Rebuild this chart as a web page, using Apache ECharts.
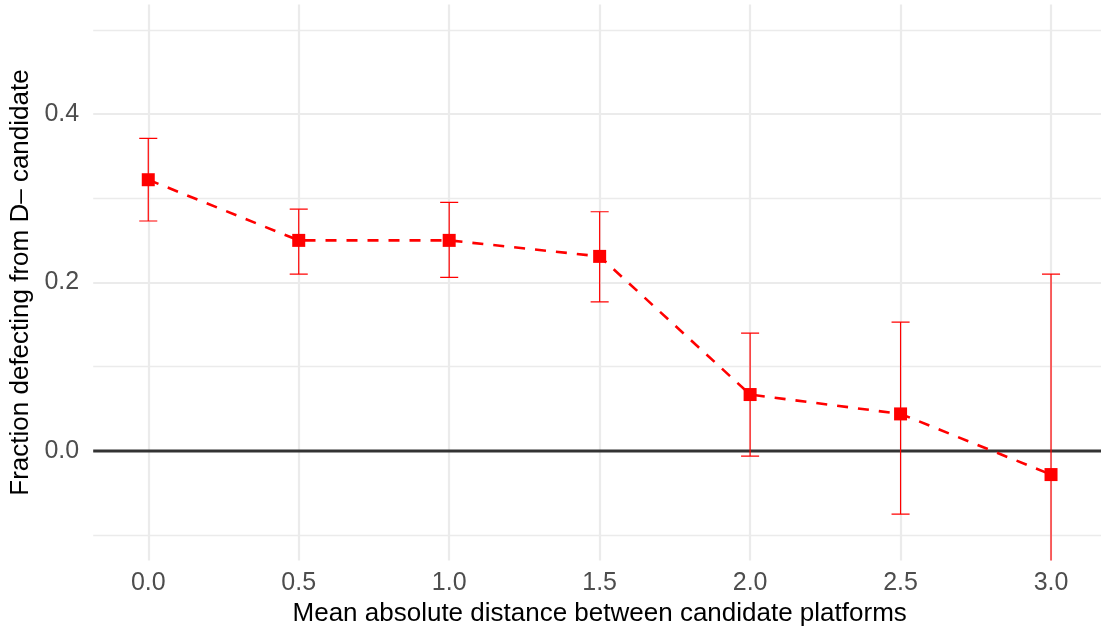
<!DOCTYPE html>
<html>
<head>
<meta charset="utf-8">
<script src="https://cdn.jsdelivr.net/npm/echarts@6/dist/echarts.min.js"></script>
<style>html,body{margin:0;padding:0;background:#fff}#c{width:1101px;height:630px}</style>
</head>
<body>
<div id="c"></div>
<script>
// ---- data ----
const xs    = [0.0, 0.5, 1.0, 1.5, 2.0, 2.5, 3.0];
const means = [0.322, 0.250, 0.250, 0.231, 0.067, 0.044, -0.028];
const lows  = [0.273, 0.210, 0.206, 0.177, -0.006, -0.075, -0.266];
const highs = [0.371, 0.287, 0.295, 0.284, 0.140, 0.153, 0.210];
const xTicks = [0.0, 0.5, 1.0, 1.5, 2.0, 2.5, 3.0];
const yTicks = [0.0, 0.2, 0.4];
const yMinor = [-0.1, 0.1, 0.3, 0.5];
const xTitle = 'Mean absolute distance between candidate platforms';
const yTitle = 'Fraction defecting from D\u2013 candidate';

const X_MIN = -0.183, X_MAX = 3.183, Y_MIN = -0.13, Y_MAX = 0.53;
const CAP = 0.03;
const FONT = '"Liberation Sans", Arial, sans-serif';

const chart = echarts.init(document.getElementById('c'), null, {renderer: 'canvas'});

const errData = xs.map((x, i) => [x, lows[i], highs[i]]);
const lineData = xs.map((x, i) => [x, means[i]]);

chart.setOption({
  animation: false,
  backgroundColor: '#ffffff',
  grid: {left: 93.2, top: 4.5, width: 1012.9, height: 556, containLabel: false, outerBoundsMode: 'none'},
  xAxis: {
    type: 'value', min: X_MIN, max: X_MAX,
    axisLine: {show: false},
    axisTick: {show: false, customValues: xTicks},
    axisLabel: {customValues: xTicks, formatter: v => v.toFixed(1), color: '#4D4D4D', fontSize: 25, fontFamily: FONT, margin: 10},
    splitLine: {show: true, lineStyle: {color: '#EBEBEB', width: 2.2}},
    name: xTitle, nameLocation: 'middle', nameGap: 40,
    nameTextStyle: {color: '#000', fontSize: 26, fontFamily: FONT}
  },
  yAxis: [{
    type: 'value', min: Y_MIN, max: Y_MAX,
    axisLine: {show: false},
    axisTick: {show: false, customValues: yTicks},
    axisLabel: {customValues: yTicks, formatter: v => v.toFixed(1), color: '#4D4D4D', fontSize: 25, fontFamily: FONT, margin: 14},
    splitLine: {show: true, lineStyle: {color: '#EBEBEB', width: 2.2}},
    name: yTitle, nameLocation: 'middle', nameGap: 58, nameRotate: 90,
    nameTextStyle: {color: '#000', fontSize: 26, fontFamily: FONT}
  }, {
    type: 'value', min: Y_MIN, max: Y_MAX, position: 'left',
    axisLine: {show: false},
    axisTick: {show: false, customValues: yMinor},
    axisLabel: {show: false, customValues: yMinor},
    splitLine: {show: true, lineStyle: {color: '#EBEBEB', width: 1.4}}
  }],
  series: [
    {
      type: 'custom', z: 1, silent: true, clip: true,
      data: [[0]],
      renderItem: (params, api) => {
        const a = api.coord([X_MIN, 0]);
        const b = api.coord([X_MAX, 0]);
        return {type: 'line', shape: {x1: a[0], y1: a[1], x2: b[0], y2: b[1]},
                style: {stroke: '#333333', lineWidth: 3}};
      }
    },
    {
      type: 'custom', z: 3, silent: true, clip: true,
      data: errData,
      renderItem: (params, api) => {
        const x = api.value(0), lo = api.value(1), hi = api.value(2);
        const pl = api.coord([x, lo]), ph = api.coord([x, hi]);
        const cl = api.coord([x - CAP, lo]), cr = api.coord([x + CAP, lo]);
        const tl = api.coord([x - CAP, hi]), tr = api.coord([x + CAP, hi]);
        const st = {stroke: '#FF0000', lineWidth: 1.2};
        return {type: 'group', children: [
          {type: 'line', shape: {x1: pl[0], y1: pl[1], x2: ph[0], y2: ph[1]}, style: st},
          {type: 'line', shape: {x1: cl[0], y1: cl[1], x2: cr[0], y2: cr[1]}, style: st},
          {type: 'line', shape: {x1: tl[0], y1: tl[1], x2: tr[0], y2: tr[1]}, style: st}
        ]};
      }
    },
    {
      type: 'line', z: 4, silent: true, clip: true,
      data: lineData,
      symbol: 'rect', symbolSize: 13,
      itemStyle: {color: '#FF0000'},
      lineStyle: {color: '#FF0000', width: 2.6, type: [11, 10]}
    }
  ]
});
</script>
</body>
</html>
